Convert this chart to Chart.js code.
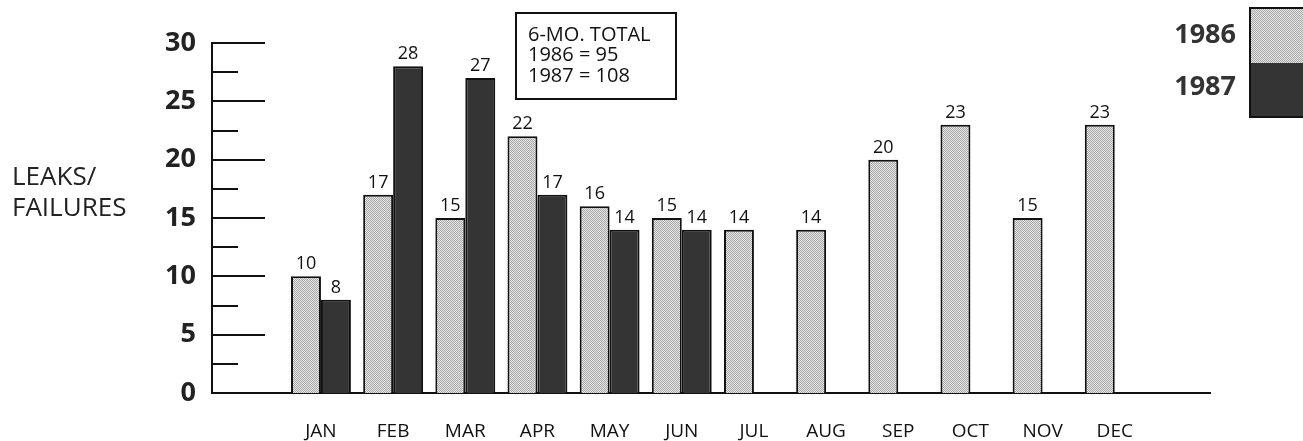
<!DOCTYPE html>
<html><head><meta charset="utf-8">
<script src="https://cdn.jsdelivr.net/npm/chart.js@4"></script>
<style>html,body{margin:0;padding:0;background:#fff;overflow:hidden}</style>
</head><body>
<canvas id="c" width="1303" height="441"></canvas>
<script>
// ---- data ----
const months = ['JAN','FEB','MAR','APR','MAY','JUN','JUL','AUG','SEP','OCT','NOV','DEC'];
const series1986 = [10,17,15,22,16,15,14,14,20,23,15,23];
const series1987 = [8,28,27,17,14,14,null,null,null,null,null,null];
const seriesLabels = ['1986','1987'];
const yTickValues = [0,5,10,15,20,25,30];
const yTitleLines = ['LEAKS/','FAILURES'];
const noteLines = ['6-MO. TOTAL','1986 = 95','1987 = 108'];

const FONT = '"Open Sans", "Noto Sans", sans-serif';
const canvas = document.getElementById('c');
const ctx = canvas.getContext('2d');

function makeStipple(){
  const p = document.createElement('canvas'); p.width = 2; p.height = 2;
  const g = p.getContext('2d');
  g.fillStyle = '#e4e4e4'; g.fillRect(0,0,2,2);
  g.fillStyle = '#a9a9a9'; g.fillRect(0,0,1,1); g.fillRect(1,1,1,1);
  return ctx.createPattern(p,'repeat');
}
const stipple = makeStipple();
const dark = '#343434';

function toPoints(arr){
  return arr.map((v,i)=>({x:i+1,y:v})).filter(p=>p.y!==null);
}

const yTicksPlugin = {
  id:'yTicks',
  afterDatasetsDraw(chart){
    const y = chart.scales.y, c = chart.ctx, left = chart.chartArea.left;
    c.save(); c.strokeStyle = '#111'; c.lineWidth = 2;
    for (let i=0;i<yTickValues.length;i++){
      const v = yTickValues[i];
      if (v>0){ const py = Math.round(y.getPixelForValue(v)); c.beginPath(); c.moveTo(left,py); c.lineTo(left+53,py); c.stroke(); }
      if (i<yTickValues.length-1){
        const mv = (v+yTickValues[i+1])/2; const py = Math.round(y.getPixelForValue(mv));
        c.beginPath(); c.moveTo(left,py); c.lineTo(left+26,py); c.stroke();
      }
    }
    c.restore();
  }
};

const valueLabels = {
  id:'valueLabels',
  afterDatasetsDraw(chart){
    const c = chart.ctx; c.save();
    c.font = '18px '+FONT; c.fillStyle = '#111'; c.textAlign='center'; c.textBaseline='bottom';
    chart.data.datasets.forEach((ds,di)=>{
      chart.getDatasetMeta(di).data.forEach((el,i)=>{
        c.fillText(String(ds.data[i].y), el.x, el.y-3);
      });
    });
    c.restore();
  }
};

const extras = {
  id:'extras',
  afterDraw(chart){
    const c = chart.ctx; c.save();
    // y title
    c.font = '26px '+FONT; c.fillStyle='#222'; c.textAlign='left'; c.textBaseline='middle';
    c.fillText(yTitleLines[0], 12, 178);
    c.fillText(yTitleLines[1], 12, 209);
    // note box
    c.fillStyle='#fff'; c.fillRect(516,13,160,86);
    c.strokeStyle='#111'; c.lineWidth=2; c.strokeRect(516,13,160,86);
    c.font = '20px '+FONT; c.fillStyle='#111';
    c.fillText(noteLines[0], 528, 35);
    c.fillText(noteLines[1], 528, 55);
    c.fillText(noteLines[2], 528, 76);
    // legend
    const ds = chart.data.datasets;
    c.font = 'bold 27px '+FONT; c.textAlign='right'; c.fillStyle='#333';
    c.fillText(ds[0].label, 1236, 35);
    c.fillText(ds[1].label, 1236, 87);
    c.fillStyle = ds[0].backgroundColor; c.fillRect(1249,8,54,55);
    c.fillStyle = ds[1].backgroundColor; c.fillRect(1249,63,54,54);
    c.strokeStyle='#111'; c.lineWidth=2; c.strokeRect(1250,8,60,109);
    c.restore();
  }
};

new Chart(ctx, {
  type:'bar',
  data:{
    datasets:[
      {label:seriesLabels[0], data:toPoints(series1986), backgroundColor:stipple, borderColor:'#111', borderWidth:2, borderSkipped:'bottom'},
      {label:seriesLabels[1], data:toPoints(series1987), backgroundColor:dark, borderColor:'#111', borderWidth:2, borderSkipped:'bottom'}
    ]
  },
  options:{
    responsive:false, animation:false, devicePixelRatio:1,
    categoryPercentage:0.83, barPercentage:1.0,
    layout:{padding:{top:43,right:93,bottom:0,left:0}},
    plugins:{legend:{display:false}, tooltip:{enabled:false}},
    scales:{
      x:{
        type:'linear', min:-0.51, max:13.32, offset:false,
        afterBuildTicks(s){ s.ticks = months.map((m,i)=>({value:i+1})); },
        afterFit(s){ s.height = 48; },
        grid:{display:false, drawTicks:false, offset:false},
        border:{display:true, color:'#111', width:2},
        ticks:{autoSkip:false, maxRotation:0, padding:27, color:'#111', font:{family:FONT, size:19},
          callback:(v)=>months[v-1] ?? ''}
      },
      y:{
        min:0, max:30,
        afterBuildTicks(s){ s.ticks = yTickValues.map(v=>({value:v})); },
        afterFit(s){ s.width = 212; },
        grid:{display:false, drawTicks:false},
        border:{display:true, color:'#111', width:2},
        ticks:{padding:16, color:'#222', font:{family:FONT, size:27, weight:'bold'}}
      }
    }
  },
  plugins:[yTicksPlugin, valueLabels, extras]
});
</script>
</body></html>
